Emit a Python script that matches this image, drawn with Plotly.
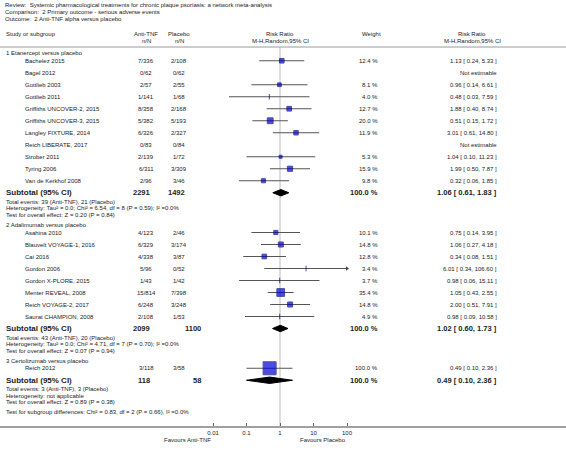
import math
import plotly.graph_objects as go

W, H = 566, 453

# ---------------- data ----------------
header_lines = [
    "Review:  Systemic pharmacological treatments for chronic plaque psoriasis: a network meta-analysis",
    "Comparison:  2 Primary outcome - serious adverse events",
    "Outcome:  2 Anti-TNF alpha versus placebo",
]
group_names = [
    "1 Etanercept versus placebo",
    "2 Adalimumab versus placebo",
    "3 Certolizumab versus placebo",
]
study_names = [
    "Bachelez 2015", "Bagel 2012", "Gottlieb 2003", "Gottlieb 2011",
    "Griffiths UNCOVER-2, 2015", "Griffiths UNCOVER-3, 2015", "Langley FIXTURE, 2014",
    "Reich LIBERATE, 2017", "Strober 2011", "Tyring 2006", "Van de Kerkhof 2008",
    "Asahina 2010", "Blauvelt VOYAGE-1, 2016", "Cai 2016", "Gordon 2006",
    "Gordon X-PLORE, 2015", "Menter REVEAL, 2008", "Reich VOYAGE-2, 2017",
    "Saurat CHAMPION, 2008",
    "Reich 2012",
]
study_group = [0] * 11 + [1] * 8 + [2]
trt_events = [7, 0, 2, 1, 8, 5, 6, 0, 2, 6, 2, 4, 6, 4, 5, 1, 15, 6, 2, 3]
trt_totals = [336, 62, 57, 141, 358, 382, 326, 83, 139, 311, 96,
              123, 329, 338, 96, 43, 814, 248, 108, 118]
ctl_events = [2, 0, 2, 1, 2, 5, 2, 0, 1, 3, 3, 2, 3, 3, 0, 1, 7, 3, 1, 3]
ctl_totals = [108, 62, 55, 68, 168, 193, 327, 84, 72, 309, 46,
              46, 174, 87, 52, 42, 398, 248, 53, 58]
weights = [12.4, None, 8.1, 4.0, 12.7, 20.0, 11.9, None, 5.3, 15.9, 9.8,
           10.1, 14.8, 12.8, 3.4, 3.7, 35.4, 14.8, 4.9, 100.0]
rr = [1.13, None, 0.96, 0.48, 1.88, 0.51, 3.01, None, 1.04, 1.99, 0.32,
      0.75, 1.06, 0.34, 6.01, 0.98, 1.05, 2.00, 0.98, 0.49]
rr_lo = [0.24, None, 0.14, 0.03, 0.40, 0.15, 0.61, None, 0.10, 0.50, 0.06,
         0.14, 0.27, 0.08, 0.34, 0.06, 0.43, 0.51, 0.09, 0.10]
rr_hi = [5.33, None, 6.61, 7.59, 8.74, 1.72, 14.80, None, 11.23, 7.87, 1.85,
         3.95, 4.18, 1.51, 106.60, 15.11, 2.55, 7.91, 10.58, 2.36]

sub_trt_totals = [2291, 2099, 118]
sub_ctl_totals = [1492, 1100, 58]
sub_weights = [100.0, 100.0, 100.0]
sub_rr = [1.06, 1.02, 0.49]
sub_lo = [0.61, 0.60, 0.10]
sub_hi = [1.83, 1.73, 2.36]
sub_events_text = [
    "Total events: 39 (Anti-TNF), 21 (Placebo)",
    "Total events: 43 (Anti-TNF), 20 (Placebo)",
    "Total events: 3 (Anti-TNF), 3 (Placebo)",
]
sub_het_text = [
    "Heterogeneity: Tau² = 0.0; Chi² = 6.54, df = 8 (P = 0.59); I² =0.0%",
    "Heterogeneity: Tau² = 0.0; Chi² = 4.71, df = 7 (P = 0.70); I² =0.0%",
    "Heterogeneity: not applicable",
]
sub_test_text = [
    "Test for overall effect: Z = 0.20 (P = 0.84)",
    "Test for overall effect: Z = 0.07 (P = 0.94)",
    "Test for overall effect: Z = 0.89 (P = 0.38)",
]
subgroup_diff_text = "Test for subgroup differences: Chi² = 0.83, df = 2 (P = 0.66), I² =0.0%"
tick_vals = [0.01, 0.1, 1, 10, 100]
tick_text = ["0.01", "0.1", "1", "10", "100"]
favours_left = "Favours Anti-TNF"
favours_right = "Favours Placebo"

# ---------------- layout geometry (pixels) ----------------
X_ONE = 280.0       # pixel of RR = 1
DECADE = 33.5       # pixels per decade
AXIS_Y = 427.0
XMIN, XMAX = 0.01, 100.0
log_left = -X_ONE / DECADE
log_right = (W - X_ONE) / DECADE
SUB_CTL_X = [187, 203, 203]   # right edge of the bold placebo totals per subgroup row

FONT = "Arial, Liberation Sans, Helvetica, sans-serif"
TXT = "#222222"

# row positions
study_y, group_y, sub_y, foot_y = [], [], [], []
cur = 53.0
for g in range(len(group_names)):
    group_y.append(cur)
    cur += 7.75
    for i, sg in enumerate(study_group):
        if sg == g:
            study_y.append(cur)
            cur += 12
    sub_y.append(cur)
    foot_y.append([cur + 9, cur + 15.5, cur + 22])
    cur += 32
diff_y = foot_y[-1][2] + 10

annotations = []


def txt(x, y, s, size=6, anchor="left", bold=False, yref="y"):
    if bold:
        s = "<b>" + s + "</b>"
    annotations.append(dict(
        x=x / W, y=y, xref="paper", yref=yref, text=s, showarrow=False,
        xanchor=anchor, yanchor="middle", align=anchor,
        font=dict(family=FONT, size=size, color=TXT),
    ))


# header
for k, line in enumerate(header_lines):
    txt(3, 5 + 7 * k, line)
txt(4, 34, "Study or subgroup")
txt(146, 34, "Anti-TNF", anchor="center")
txt(146, 41, "n/N", anchor="center")
txt(179, 34, "Placebo", anchor="center")
txt(179, 41, "n/N", anchor="center")
txt(X_ONE, 34, "Risk Ratio", anchor="center")
txt(X_ONE, 41, "M-H,Random,95% CI", anchor="center")
txt(371, 34, "Weight", anchor="center")
txt(472, 34, "Risk Ratio", anchor="center")
txt(472, 41, "M-H,Random,95% CI", anchor="center")

# study rows
for i, name in enumerate(study_names):
    y = study_y[i]
    txt(23, y, name)
    txt(146, y, f"{trt_events[i]}/{trt_totals[i]}", anchor="center")
    txt(179, y, f"{ctl_events[i]}/{ctl_totals[i]}", anchor="center")
    if weights[i] is not None:
        txt(380, y, f"{weights[i]:.1f} %", anchor="right")
        txt(499, y, f"{rr[i]:.2f} [ {rr_lo[i]:.2f}, {rr_hi[i]:.2f} ]", anchor="right")
    else:
        txt(499, y, "Not estimable", anchor="right")

# group rows
for g, gname in enumerate(group_names):
    txt(4, group_y[g], gname)
    txt(4, sub_y[g], "Subtotal (95% CI)", size=8, bold=True)
    txt(152, sub_y[g], str(sub_trt_totals[g]), size=7.5, bold=True, anchor="right")
    txt(SUB_CTL_X[g], sub_y[g], str(sub_ctl_totals[g]), size=7.5, bold=True, anchor="right")
    txt(380, sub_y[g], f"{sub_weights[g]:.1f} %", size=7.5, bold=True, anchor="right")
    txt(499, sub_y[g], f"{sub_rr[g]:.2f} [ {sub_lo[g]:.2f}, {sub_hi[g]:.2f} ]",
        size=7.5, bold=True, anchor="right")
    txt(4, foot_y[g][0], sub_events_text[g])
    txt(4, foot_y[g][1], sub_het_text[g])
    txt(4, foot_y[g][2], sub_test_text[g])
txt(4, diff_y, subgroup_diff_text)

txt(188, 440, favours_left, anchor="center")
txt(323, 440, favours_right, anchor="center")

# ---------------- traces ----------------
fig = go.Figure()

# CI lines
ci_x, ci_y = [], []
arrow_x, arrow_y = [], []
for i in range(len(study_names)):
    if rr[i] is None:
        continue
    lo = max(rr_lo[i], XMIN)
    hi = min(rr_hi[i], XMAX)
    ci_x += [lo, hi, None]
    ci_y += [study_y[i], study_y[i], None]
    if rr_hi[i] > XMAX:
        arrow_x.append(XMAX)
        arrow_y.append(study_y[i])
fig.add_trace(go.Scatter(x=ci_x, y=ci_y, mode="lines",
                         line=dict(color="#555555", width=1), hoverinfo="skip"))
if arrow_x:
    fig.add_trace(go.Scatter(x=arrow_x, y=arrow_y, mode="markers",
                             marker=dict(symbol="triangle-right", size=4, color="#444444"),
                             hoverinfo="skip"))

# point estimates (squares sized by weight)
sq_x, sq_y, sq_s, sq_sym = [], [], [], []
for i in range(len(study_names)):
    if rr[i] is None:
        continue
    sq_x.append(rr[i])
    sq_y.append(study_y[i])
    if weights[i] >= 5:
        sq_sym.append("square")
        sq_s.append(1.3 * math.sqrt(weights[i]))
    else:
        sq_sym.append("line-ns")
        sq_s.append(4)
fig.add_trace(go.Scatter(
    x=sq_x, y=sq_y, mode="markers",
    marker=dict(symbol=sq_sym, size=sq_s, color="#0000d8",
                line=dict(color="#000080", width=1)),
    hoverinfo="skip"))

# subtotal diamonds
HALF = 3.2
for g in range(len(group_names)):
    y = sub_y[g]
    fig.add_trace(go.Scatter(
        x=[sub_lo[g], sub_rr[g], sub_hi[g], sub_rr[g], sub_lo[g]],
        y=[y, y - HALF, y, y + HALF, y],
        mode="lines", fill="toself", fillcolor="black",
        line=dict(color="black", width=1), hoverinfo="skip"))

# ---------------- shapes ----------------
shapes = [
    dict(type="line", xref="paper", yref="y", x0=0, x1=1, y0=47, y1=47,
         line=dict(color="#9a9a9a", width=1)),
    dict(type="line", xref="x", yref="y", x0=1, x1=1, y0=47, y1=AXIS_Y,
         line=dict(color="#dddddd", width=2), layer="below"),
]

fig.update_layout(
    width=W, height=H,
    margin=dict(l=0, r=0, t=0, b=0),
    paper_bgcolor="white", plot_bgcolor="white",
    showlegend=False,
    hovermode=False,
    annotations=annotations,
    shapes=shapes,
    xaxis=dict(type="log", range=[log_left, log_right],
               tickvals=tick_vals, ticktext=tick_text,
               ticks="inside", ticklen=3, tickcolor="#666666", tickwidth=1,
               showline=True, linecolor="#a0a0a0", linewidth=2,
               showgrid=False, zeroline=False,
               tickfont=dict(family=FONT, size=6, color=TXT),
               anchor="free", position=(H - AXIS_Y) / H, fixedrange=True),
    yaxis=dict(range=[H, 0], domain=[0, 1], visible=False, fixedrange=True),
)

fig.write_html("out.html", config={"displayModeBar": False},
               post_script="document.body.style.margin='0px';")
